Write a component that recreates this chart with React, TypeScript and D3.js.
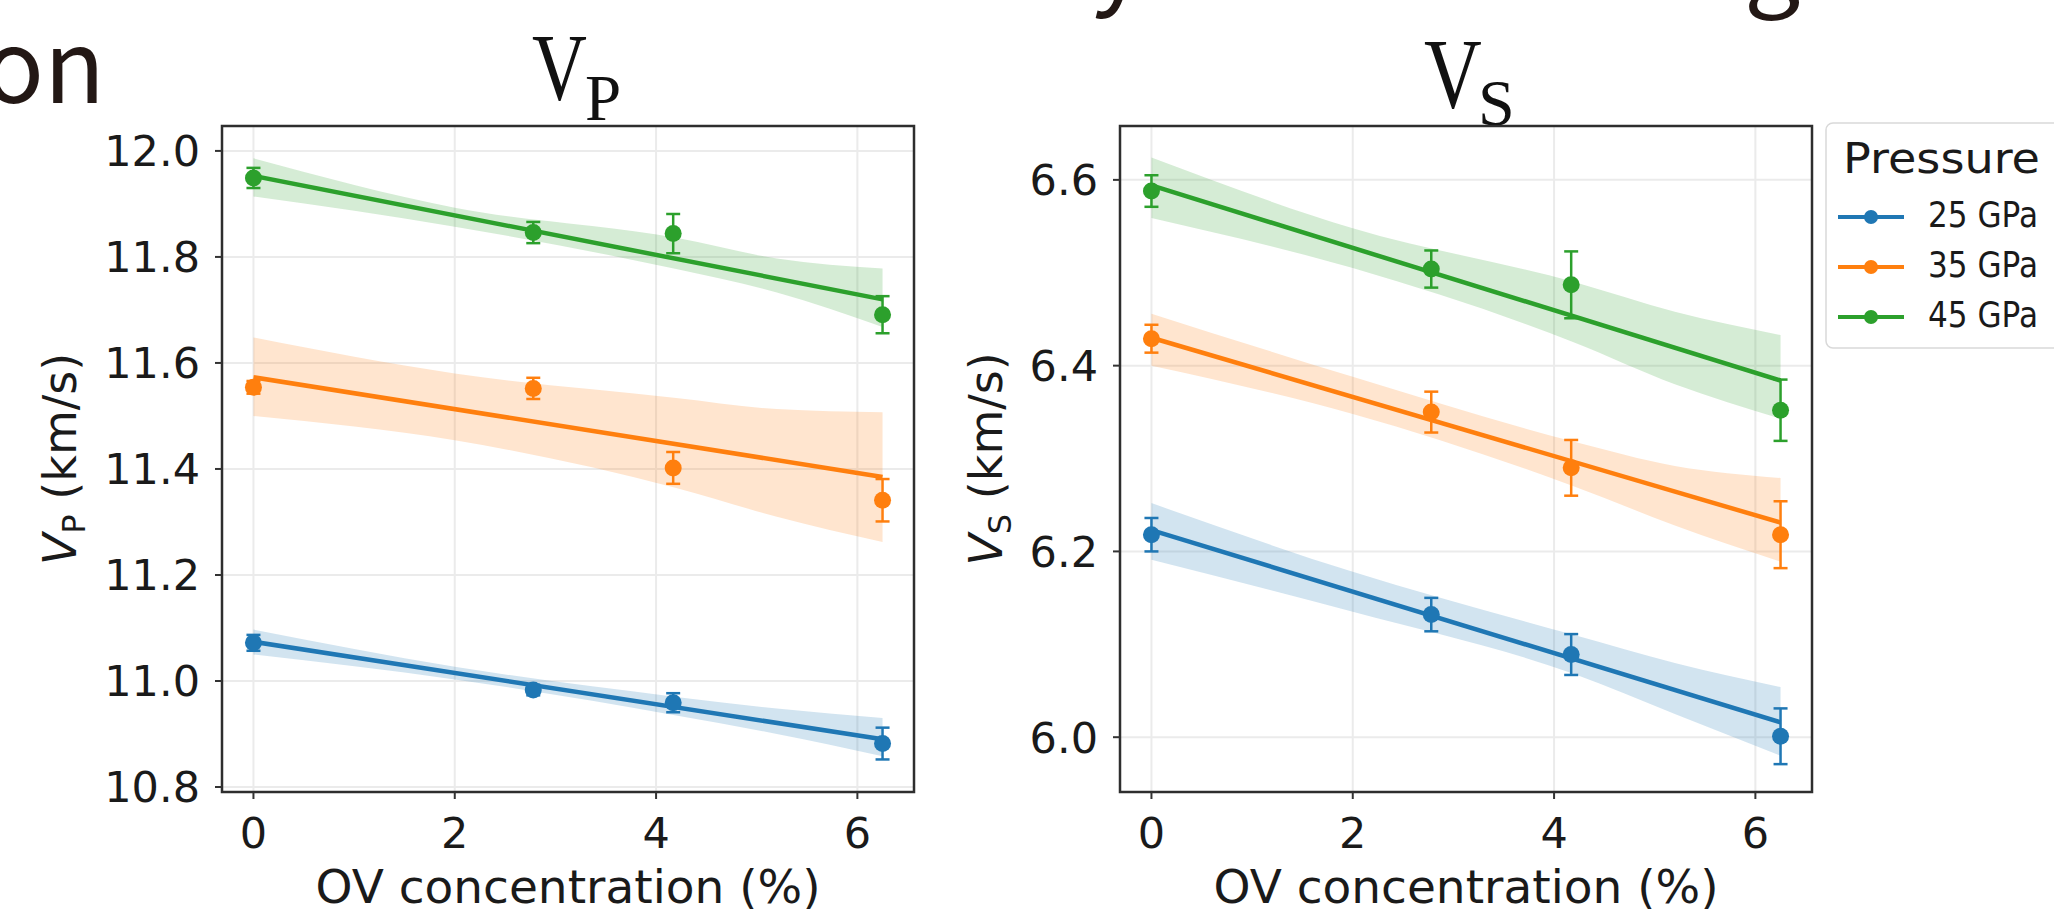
import React from "react";
import * as d3 from "d3";

// OV concentration (%) of the four samples
const ovConcentration = [0, 2.78, 4.17, 6.25];
const fitRange = [0, 6.25];
const bandX = [0, 2, 4.2, 5.2, 6.25];
const xTicks = [0, 2, 4, 6];

const pressureLabels = ["25 GPa", "35 GPa", "45 GPa"];
const pressureColors = ["#1f77b4", "#ff7f0e", "#2ca02c"];

// V_P (km/s)
const vp25 = [11.072, 10.983, 10.959, 10.882];
const vp25Err = [0.015, 0.01, 0.018, 0.03];
const vp35 = [11.554, 11.552, 11.402, 11.341];
const vp35Err = [0.012, 0.02, 0.03, 0.04];
const vp45 = [11.949, 11.846, 11.844, 11.691];
const vp45Err = [0.019, 0.02, 0.037, 0.035];
const vpFit = [
  [11.074, 10.89],
  [11.573, 11.385],
  [11.953, 11.72],
];
const vp25Band = [[11.05, 11.097], [11.003, 11.027], [10.935, 10.97], [10.9, 10.948], [10.858, 10.93]];
const vp35Band = [[11.5, 11.648], [11.454, 11.58], [11.364, 11.534], [11.31, 11.513], [11.262, 11.507]];
const vp45Band = [[11.914, 11.986], [11.857, 11.893], [11.777, 11.836], [11.733, 11.797], [11.668, 11.778]];
const vpTicks = [10.8, 11.0, 11.2, 11.4, 11.6, 11.8, 12.0];

// V_S (km/s)
const vs25 = [6.218, 6.132, 6.089, 6.001];
const vs25Err = [0.018, 0.018, 0.022, 0.03];
const vs35 = [6.429, 6.35, 6.29, 6.218];
const vs35Err = [0.015, 0.022, 0.03, 0.036];
const vs45 = [6.588, 6.504, 6.487, 6.352];
const vs45Err = [0.017, 0.02, 0.036, 0.033];
const vsFit = [
  [6.223, 6.016],
  [6.43, 6.231],
  [6.594, 6.384],
];
const vs25Band = [[6.191, 6.252], [6.135, 6.178], [6.068, 6.11], [6.025, 6.08], [5.98, 6.054]];
const vs35Band = [[6.4, 6.456], [6.348, 6.388], [6.27, 6.318], [6.228, 6.292], [6.189, 6.279]];
const vs45Band = [[6.559, 6.624], [6.505, 6.548], [6.425, 6.49], [6.38, 6.458], [6.343, 6.433]];
const vsTicks = [6.0, 6.2, 6.4, 6.6];

const FONT = "DejaVu Sans, sans-serif";
const TXT = "#1a1a1a";

function Panel({ box, yDomain, yTicks, means, errs, fits, bands, sub, labelX, id }) {
  const x = d3.scaleLinear().domain([-0.3125, 6.5625]).range([box.left, box.right]);
  const y = d3.scaleLinear().domain(yDomain).range([box.bottom, box.top]);
  const area = d3
    .area<number[]>()
    .x((d, i) => x(bandX[i]))
    .y0((d) => y(d[0]))
    .y1((d) => y(d[1]))
    .curve(d3.curveMonotoneX);
  const line = d3
    .line<number>()
    .x((d, i) => x(fitRange[i]))
    .y((d) => y(d));
  const fmt = d3.format(".1f");
  const cy = (box.top + box.bottom) / 2;
  const cx = (box.left + box.right) / 2;

  return (
    <g>
      <defs>
        <clipPath id={id}>
          <rect x={box.left} y={box.top} width={box.right - box.left} height={box.bottom - box.top} />
        </clipPath>
      </defs>
      <rect x={box.left} y={box.top} width={box.right - box.left} height={box.bottom - box.top} fill="#fff" />
      {/* grid */}
      {xTicks.map((t) => (
        <line key={"gx" + t} x1={x(t)} x2={x(t)} y1={box.top} y2={box.bottom} stroke="#ebebeb" strokeWidth={2} />
      ))}
      {yTicks.map((t) => (
        <line key={"gy" + t} x1={box.left} x2={box.right} y1={y(t)} y2={y(t)} stroke="#ebebeb" strokeWidth={2} />
      ))}
      <g clipPath={`url(#${id})`}>
        {bands.map((b, k) => (
          <path key={"b" + k} d={area(b) || ""} fill={pressureColors[k]} fillOpacity={0.2} />
        ))}
        {fits.map((f, k) => (
          <path key={"f" + k} d={line(f) || ""} fill="none" stroke={pressureColors[k]} strokeWidth={4.5} />
        ))}
        {means.map((m, k) =>
          m.map((v, i) => {
            const px = x(ovConcentration[i]);
            const lo = y(v - errs[k][i]);
            const hi = y(v + errs[k][i]);
            return (
              <g key={`e${k}-${i}`} stroke={pressureColors[k]} strokeWidth={2.5}>
                <line x1={px} x2={px} y1={lo} y2={hi} />
                <line x1={px - 7} x2={px + 7} y1={lo} y2={lo} />
                <line x1={px - 7} x2={px + 7} y1={hi} y2={hi} />
                <circle cx={px} cy={y(v)} r={8.5} fill={pressureColors[k]} stroke="none" />
              </g>
            );
          })
        )}
      </g>
      {/* spines */}
      <rect
        x={box.left}
        y={box.top}
        width={box.right - box.left}
        height={box.bottom - box.top}
        fill="none"
        stroke="#2e2e2e"
        strokeWidth={2.5}
      />
      {yTicks.map((t) => (
        <g key={"ty" + t}>
          <line x1={box.left - 7} x2={box.left} y1={y(t)} y2={y(t)} stroke="#333" strokeWidth={2} />
          <text x={box.left - 22} y={y(t)} dy="0.36em" textAnchor="end" fontFamily={FONT} fontSize={43} fill={TXT}>
            {fmt(t)}
          </text>
        </g>
      ))}
      {xTicks.map((t) => (
        <g key={"tx" + t}>
          <line x1={x(t)} x2={x(t)} y1={box.bottom} y2={box.bottom + 7} stroke="#333" strokeWidth={2} />
          <text x={x(t)} y={box.bottom + 56} textAnchor="middle" fontFamily={FONT} fontSize={43} fill={TXT}>
            {t}
          </text>
        </g>
      ))}
      <text x={cx} y={903} textAnchor="middle" fontFamily={FONT} fontSize={47} fill={TXT}>
        OV concentration (%)
      </text>
      <text
        transform={`translate(${labelX},${cy}) rotate(-90)`}
        dy="0.36em"
        textAnchor="middle"
        fontFamily={FONT}
        fontSize={46}
        fill={TXT}
      >
        <tspan fontStyle="italic">V</tspan>
        <tspan fontSize={32} dy={9}>
          {sub}
        </tspan>
        <tspan dy={-9}> (km/s)</tspan>
      </text>
    </g>
  );
}

function Legend() {
  const y = d3.scaleBand().domain(pressureLabels).range([192, 342]);
  return (
    <g>
      <rect x={1826} y={123} width={240} height={225} rx={7} fill="#fff" stroke="#d9d9d9" strokeWidth={1.5} />
      <text x={1843} y={173} fontFamily={FONT} fontSize={42} fill={TXT} textLength={197} lengthAdjust="spacingAndGlyphs">
        Pressure
      </text>
      {pressureLabels.map((p, k) => {
        const cy = (y(p) || 0) + y.bandwidth() / 2;
        return (
          <g key={p}>
            <line x1={1838} x2={1904} y1={cy} y2={cy} stroke={pressureColors[k]} strokeWidth={4} />
            <circle cx={1871} cy={cy} r={7} fill={pressureColors[k]} />
            <text
              x={1928}
              y={cy + 10}
              fontFamily={FONT}
              fontSize={36}
              fill={TXT}
              textLength={110}
              lengthAdjust="spacingAndGlyphs"
            >
              {p}
            </text>
          </g>
        );
      })}
    </g>
  );
}

export default function App() {
  const serif = "Liberation Serif, serif";
  const slide = "Noto Sans CJK JP, Noto Sans, sans-serif";
  return (
    <svg
      width={2054}
      height={909}
      style={{ position: "absolute", left: 0, top: 0, display: "block", background: "#fff" }}
    >
      {/* fragments of the slide title around the figure */}
      <text x={105} y={103} textAnchor="end" fontFamily={slide} fontSize={100} fill="#231815">
        on
      </text>
      <text x={1092} y={-4} fontFamily={slide} fontSize={100} fill="#231815">
        y
      </text>
      <text x={1744} y={-4} fontFamily={slide} fontSize={100} fill="#231815">
        g
      </text>

      {/* panel titles */}
      <text transform="translate(532,100) scale(0.8,1)" fontFamily={serif} fontSize={95} fill="#111">
        V
      </text>
      <text x={585} y={120} fontFamily={serif} fontSize={65} fill="#111">
        P
      </text>
      <text transform="translate(1424,107) scale(0.8,1)" fontFamily={serif} fontSize={100} fill="#111">
        V
      </text>
      <text x={1478} y={125} fontFamily={serif} fontSize={66} fill="#111">
        S
      </text>

      <Panel
        id="clipVp"
        box={{ left: 222, right: 914, top: 126, bottom: 792 }}
        yDomain={[10.7906, 12.047]}
        yTicks={vpTicks}
        means={[vp25, vp35, vp45]}
        errs={[vp25Err, vp35Err, vp45Err]}
        fits={vpFit}
        bands={[vp25Band, vp35Band, vp45Band]}
        sub="P"
        labelX={59}
      />
      <Panel
        id="clipVs"
        box={{ left: 1120, right: 1812, top: 126, bottom: 792 }}
        yDomain={[5.941, 6.658]}
        yTicks={vsTicks}
        means={[vs25, vs35, vs45]}
        errs={[vs25Err, vs35Err, vs45Err]}
        fits={vsFit}
        bands={[vs25Band, vs35Band, vs45Band]}
        sub="S"
        labelX={985}
      />
      <Legend />
    </svg>
  );
}
